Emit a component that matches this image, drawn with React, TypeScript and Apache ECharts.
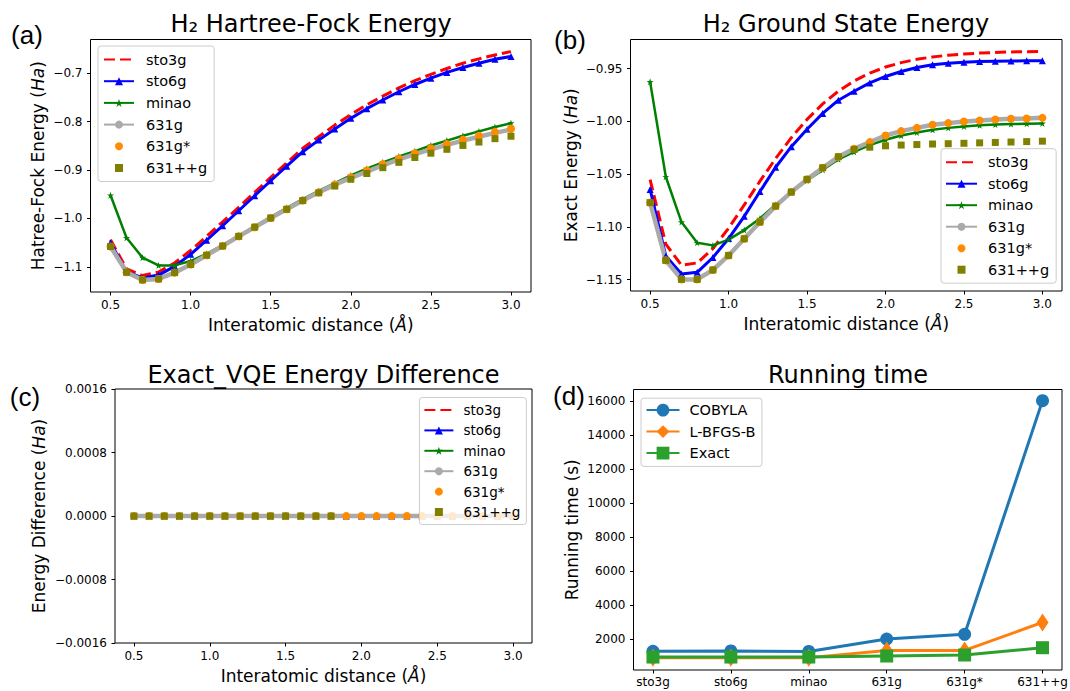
import { useEffect, useRef } from 'react';
import * as echarts from 'echarts';

const FONT = "'DejaVu Sans', 'Noto Sans', sans-serif";
const LABEL_FONT = "'Liberation Sans', Arial, sans-serif";

// ---------------- data ----------------
const distances = [0.5, 0.6, 0.7, 0.8, 0.9, 1.0, 1.1, 1.2, 1.3, 1.4, 1.5, 1.6, 1.7, 1.8, 1.9, 2.0, 2.1, 2.2, 2.3, 2.4, 2.5, 2.6, 2.7, 2.8, 2.9, 3.0];
const basisNames = ['sto3g', 'sto6g', 'minao', '631g', '631g*', '631++g'];

// (a) Hartree-Fock energy (Ha)
const hfSto3g = [-1.044, -1.104, -1.118, -1.111, -1.092, -1.066, -1.037, -1.007, -0.977, -0.946, -0.915, -0.885, -0.855, -0.831, -0.807, -0.785, -0.765, -0.747, -0.730, -0.715, -0.702, -0.690, -0.679, -0.670, -0.662, -0.655];
const hfSto6g = [-1.050, -1.110, -1.123, -1.117, -1.099, -1.074, -1.045, -1.015, -0.984, -0.953, -0.922, -0.892, -0.862, -0.838, -0.815, -0.793, -0.773, -0.755, -0.738, -0.723, -0.710, -0.698, -0.688, -0.679, -0.671, -0.665];
const hfMinao = [-0.952, -1.040, -1.081, -1.097, -1.097, -1.088, -1.073, -1.055, -1.036, -1.016, -0.997, -0.978, -0.960, -0.943, -0.927, -0.911, -0.897, -0.884, -0.872, -0.861, -0.849, -0.839, -0.829, -0.820, -0.811, -0.803];
const hf631g = [-1.058, -1.111, -1.127, -1.125, -1.112, -1.095, -1.076, -1.057, -1.037, -1.018, -0.999, -0.981, -0.963, -0.946, -0.930, -0.916, -0.903, -0.890, -0.878, -0.867, -0.857, -0.848, -0.839, -0.831, -0.823, -0.816];
const hf631gStar = [-1.058, -1.111, -1.127, -1.125, -1.112, -1.095, -1.076, -1.057, -1.037, -1.018, -0.999, -0.981, -0.963, -0.946, -0.930, -0.915, -0.901, -0.888, -0.876, -0.865, -0.855, -0.846, -0.837, -0.829, -0.821, -0.814];
const hf631ppg = [-1.058, -1.111, -1.127, -1.125, -1.112, -1.095, -1.076, -1.057, -1.037, -1.018, -0.999, -0.981, -0.963, -0.947, -0.933, -0.919, -0.907, -0.895, -0.884, -0.874, -0.865, -0.857, -0.849, -0.842, -0.835, -0.830];

// (b) Exact ground state energy (Ha)
const exSto3g = [-1.0552, -1.1163, -1.1362, -1.1341, -1.1206, -1.1012, -1.0792, -1.0567, -1.0352, -1.0155, -0.9982, -0.9835, -0.9714, -0.9618, -0.9543, -0.9486, -0.9444, -0.9413, -0.9390, -0.9374, -0.9362, -0.9354, -0.9348, -0.9343, -0.9340, -0.9338];
const exSto6g = [-1.0645, -1.1276, -1.1445, -1.1430, -1.1290, -1.1110, -1.0900, -1.0665, -1.0435, -1.0240, -1.0075, -0.9925, -0.9800, -0.9715, -0.9636, -0.9575, -0.9528, -0.9490, -0.9465, -0.9450, -0.9440, -0.9434, -0.9430, -0.9428, -0.9427, -0.9426];
const exMinao = [-0.9626, -1.0525, -1.0954, -1.1150, -1.1175, -1.1120, -1.1030, -1.0920, -1.0790, -1.0670, -1.0560, -1.0460, -1.0360, -1.0290, -1.0225, -1.0175, -1.0135, -1.0105, -1.0080, -1.0062, -1.0048, -1.0038, -1.0031, -1.0026, -1.0022, -1.0020];
const ex631g = [-1.0770, -1.1317, -1.1497, -1.1497, -1.1408, -1.1270, -1.1112, -1.0954, -1.0803, -1.0670, -1.0550, -1.0440, -1.0336, -1.0260, -1.0197, -1.0134, -1.0093, -1.0062, -1.0033, -1.0017, -1.0002, -0.9992, -0.9983, -0.9976, -0.9973, -0.9967];
const ex631gStar = [-1.0770, -1.1317, -1.1497, -1.1497, -1.1408, -1.1270, -1.1112, -1.0954, -1.0803, -1.0670, -1.0550, -1.0440, -1.0336, -1.0260, -1.0197, -1.0134, -1.0093, -1.0062, -1.0033, -1.0017, -1.0002, -0.9992, -0.9983, -0.9976, -0.9973, -0.9967];
const ex631ppg = [-1.0770, -1.1317, -1.1497, -1.1497, -1.1408, -1.1270, -1.1112, -1.0954, -1.0803, -1.0670, -1.0550, -1.0440, -1.0336, -1.0267, -1.0245, -1.0232, -1.0225, -1.0220, -1.0215, -1.0212, -1.0208, -1.0204, -1.0200, -1.0196, -1.0192, -1.0188];

// (c) Exact - VQE energy difference (Ha)
const diffSto3g = [0, 0, 0, 0, 0, 0, 0, 0, 0, 0, 0, 0, 0, 0, 0, 0, 0, 0, 0, 0, 0, 0, 0, 0, 0, 0];
const diffSto6g = [0, 0, 0, 0, 0, 0, 0, 0, 0, 0, 0, 0, 0, 0, 0, 0, 0, 0, 0, 0, 0, 0, 0, 0, 0, 0];
const diffMinao = [0, 0, 0, 0, 0, 0, 0, 0, 0, 0, 0, 0, 0, 0, 0, 0, 0, 0, 0, 0, 0, 0, 0, 0, 0, 0];
const diff631g = [0, 0, 0, 0, 0, 0, 0, 0, 0, 0, 0, 0, 0, 0, 0, 0, 0, 0, 0, 0, 0, 0, 0, 0, 0, 0];
const diff631gStar = [0, 0, 0, 0, 0, 0, 0, 0, 0, 0, 0, 0, 0, 0, 0, 0, 0, 0, 0, 0, 0, 0, 0, 0, 0, 0];
const diff631ppg = [0, 0, 0, 0, 0, 0, 0, 0, 0, 0, 0, 0, 0, 0];

// (d) running time (s)
const runCategories = ['sto3g', 'sto6g', 'minao', '631g', '631g*', '631++g'];
const timeCobyla = [1280, 1300, 1270, 2000, 2280, 16050];
const timeLbfgsb = [905, 905, 905, 1330, 1330, 2980];
const timeExact = [940, 940, 940, 1000, 1060, 1490];

// tick labels
const distTicks = [0.5, 1.0, 1.5, 2.0, 2.5, 3.0];
const hfTicks = [-1.1, -1.0, -0.9, -0.8, -0.7];
const exTicks = [-1.15, -1.10, -1.05, -1.00, -0.95];
const diffTicks = [-0.0016, -0.0008, 0, 0.0008, 0.0016];
const timeTicks = [2000, 4000, 6000, 8000, 10000, 12000, 14000, 16000];
const catTicks = [0, 1, 2, 3, 4, 5];

// ---------------- styles ----------------
const STAR = 'path://M50,2 L61.8,36.2 L97.6,36.2 L68.6,57.4 L79.4,91.6 L50,70.6 L20.6,91.6 L31.4,57.4 L2.4,36.2 L38.2,36.2 Z';

const basisStyle: Record<string, any> = {
  sto3g: { color: '#ff0000', width: 3, type: [11, 5], symbol: 'none', size: 0, line: true },
  sto6g: { color: '#0000ff', width: 3, type: 'solid', symbol: 'triangle', size: 7, line: true },
  minao: { color: '#008000', width: 2.5, type: 'solid', symbol: STAR, size: 7, line: true },
  '631g': { color: '#aaaaaa', width: 4.5, type: 'solid', symbol: 'circle', size: 7, line: true },
  '631g*': { color: '#ff8c00', width: 0, type: 'solid', symbol: 'circle', size: 8, line: false },
  '631++g': { color: '#808000', width: 0, type: 'solid', symbol: 'rect', size: 7, line: false },
};

const minus = (s: string) => s.replace('-', '\u2212');

function basisSeries(gridIndex: number, arrays: number[][]) {
  return basisNames.map((name, k) => {
    const st = basisStyle[name];
    const vals = arrays[k];
    return {
      type: 'line',
      name,
      xAxisIndex: gridIndex,
      yAxisIndex: gridIndex,
      data: vals.map((v, i) => [distances[i], v]),
      symbol: st.symbol,
      symbolSize: st.size,
      showSymbol: st.symbol !== 'none',
      itemStyle: { color: st.color },
      lineStyle: st.line
        ? { color: st.color, width: st.width, type: st.type, cap: 'butt' }
        : { color: st.color, width: 0, opacity: 0 },
      emphasis: { disabled: true },
      silent: true,
      clip: false,
    };
  });
}

function axisName(text: string, gap: number) {
  return {
    name: text,
    nameLocation: 'middle',
    nameGap: gap,
    nameTextStyle: {
      fontSize: 17,
      fontFamily: FONT,
      color: '#000',
      rich: { i: { fontStyle: 'italic', fontSize: 17, fontFamily: FONT, color: '#000' } },
    },
  };
}

function valAxis(gridIndex: number, min: number, max: number, ticks: number[], fmt: (v: number) => string, margin: number, extra: any = {}) {
  return {
    type: 'value',
    gridIndex,
    min,
    max,
    axisLine: { show: false, onZero: false },
    axisTick: { show: true, inside: false, length: 3.5, customValues: ticks, lineStyle: { color: '#000', width: 1 } },
    axisLabel: { show: true, customValues: ticks, formatter: fmt, margin, fontSize: 12, color: '#000', fontFamily: FONT },
    splitLine: { show: false },
    ...extra,
  };
}

function basisLegend(left: number, top: number, fontSize: number, gap: number, padding: number[], itemWidth: number, textPad: number) {
  return {
    orient: 'vertical',
    left,
    top,
    data: basisNames.map((n) => (n === 'sto3g' ? { name: n, itemStyle: { color: 'rgba(0,0,0,0)', borderWidth: 0 } } : { name: n })),
    itemWidth,
    itemHeight: 10,
    itemGap: gap,
    padding,
    backgroundColor: 'rgba(255,255,255,0.8)',
    borderColor: '#cccccc',
    borderWidth: 1,
    borderRadius: 3,
    selectedMode: false,
    textStyle: { fontSize, fontFamily: FONT, color: '#000', padding: [0, 0, 0, textPad] },
    z: 10,
  };
}

function titleText(text: string, x: number, y: number) {
  return {
    type: 'text',
    x,
    y,
    z: 20,
    style: {
      text,
      font: `24px ${FONT}`,
      fill: '#000',
      align: 'center',
      verticalAlign: 'middle',
      textAlign: 'center',
      textVerticalAlign: 'middle',
    },
  };
}

function panelLabel(text: string, x: number, y: number) {
  return {
    type: 'text',
    x,
    y,
    z: 20,
    style: {
      text,
      font: `26px ${LABEL_FONT}`,
      fill: '#000',
      align: 'center',
      verticalAlign: 'middle',
      textAlign: 'center',
      textVerticalAlign: 'middle',
    },
  };
}

export default function App() {
  const ref = useRef<HTMLDivElement>(null);

  useEffect(() => {
    if (!ref.current) return;
    const chart = echarts.init(ref.current, undefined, { renderer: 'svg' });

    const gridBase = { show: true, borderColor: '#000', borderWidth: 1, backgroundColor: '#fff', containLabel: false, outerBoundsMode: 'none' };

    const distName = 'Interatomic distance ({i|\u00c5})';

    const option: any = {
      animation: false,
      backgroundColor: '#ffffff',
      textStyle: { fontFamily: FONT },
      grid: [
        { ...gridBase, left: 90.5, top: 39.5, width: 440.5, height: 252.5 },
        { ...gridBase, left: 630.5, top: 39.5, width: 431.5, height: 251.5 },
        { ...gridBase, left: 115, top: 389, width: 417, height: 254 },
        { ...gridBase, left: 633.5, top: 389.5, width: 428.5, height: 280.5 },
      ],
      xAxis: [
        valAxis(0, 0.375, 3.125, distTicks, (v) => v.toFixed(1), 7, axisName(distName, 24)),
        valAxis(1, 0.375, 3.125, distTicks, (v) => v.toFixed(1), 7, axisName(distName, 24)),
        valAxis(2, 0.375, 3.125, distTicks, (v) => v.toFixed(1), 7, axisName(distName, 24)),
        valAxis(3, -0.25, 5.25, catTicks, (v) => runCategories[Math.round(v)], 6),
      ],
      yAxis: [
        valAxis(0, -1.152, -0.630, hfTicks, (v) => minus(v.toFixed(1)), 8, axisName('Hatree-Fock Energy ({i|Ha})', 44)),
        valAxis(1, -1.1607, -0.9225, exTicks, (v) => minus(v.toFixed(2)), 8, axisName('Exact Energy ({i|Ha})', 51.5)),
        valAxis(2, -0.0016, 0.0016, diffTicks, (v) => minus(v.toFixed(4)), 8, axisName('Energy Difference ({i|Ha})', 67.5)),
        valAxis(3, 176, 16706, timeTicks, (v) => String(Math.round(v)), 8, axisName('Running time (s)', 53)),
      ],
      legend: [
        basisLegend(98, 46, 14.5, 6.7, [6, 7, 6, 5], 30, 7),
        basisLegend(941, 148.7, 14.5, 6.5, [6, 7, 6, 4], 31, 6),
        basisLegend(419.4, 397.5, 13.5, 6.4, [5.5, 6, 5.5, 4], 29, 5),
        {
          orient: 'vertical',
          left: 641,
          top: 398.2,
          data: ['COBYLA', 'L-BFGS-B', 'Exact'],
          itemWidth: 33,
          itemHeight: 16,
          itemGap: 6.5,
          padding: [4.4, 6.5, 5.8, 4.5],
          backgroundColor: 'rgba(255,255,255,0.8)',
          borderColor: '#cccccc',
          borderWidth: 1,
          borderRadius: 3,
          selectedMode: false,
          textStyle: { fontSize: 14.5, fontFamily: FONT, color: '#000', padding: [0, 0, 0, 5] },
          z: 10,
        },
      ],
      series: [
        ...basisSeries(0, [hfSto3g, hfSto6g, hfMinao, hf631g, hf631gStar, hf631ppg]),
        ...basisSeries(1, [exSto3g, exSto6g, exMinao, ex631g, ex631gStar, ex631ppg]),
        ...basisSeries(2, [diffSto3g, diffSto6g, diffMinao, diff631g, diff631gStar, diff631ppg]),
        {
          type: 'line', name: 'COBYLA', xAxisIndex: 3, yAxisIndex: 3,
          data: timeCobyla.map((v, i) => [catTicks[i], v]),
          symbol: 'circle', symbolSize: 13,
          itemStyle: { color: '#1f77b4' }, lineStyle: { color: '#1f77b4', width: 3 },
          emphasis: { disabled: true }, silent: true, clip: false,
        },
        {
          type: 'line', name: 'L-BFGS-B', xAxisIndex: 3, yAxisIndex: 3,
          data: timeLbfgsb.map((v, i) => [catTicks[i], v]),
          symbol: 'diamond', symbolSize: [12, 18],
          itemStyle: { color: '#ff7f0e' }, lineStyle: { color: '#ff7f0e', width: 3 },
          emphasis: { disabled: true }, silent: true, clip: false,
        },
        {
          type: 'line', name: 'Exact', xAxisIndex: 3, yAxisIndex: 3,
          data: timeExact.map((v, i) => [catTicks[i], v]),
          symbol: 'rect', symbolSize: 13,
          itemStyle: { color: '#2ca02c' }, lineStyle: { color: '#2ca02c', width: 3 },
          emphasis: { disabled: true }, silent: true, clip: false,
        },
      ],
      graphic: [
        titleText('H\u2082 Hartree-Fock Energy', 311, 24),
        titleText('H\u2082 Ground State Energy', 846, 24),
        titleText('Exact_VQE Energy Difference', 323.5, 375),
        titleText('Running time', 848, 375),
        panelLabel('(a)', 27, 35),
        panelLabel('(b)', 570, 40),
        panelLabel('(c)', 25, 397),
        panelLabel('(d)', 569, 396),
      ],
    };

    chart.setOption(option);
    return () => chart.dispose();
  }, []);

  return <div ref={ref} style={{ position: 'fixed', left: 0, top: 0, width: '1070px', height: '691px' }} />;
}
